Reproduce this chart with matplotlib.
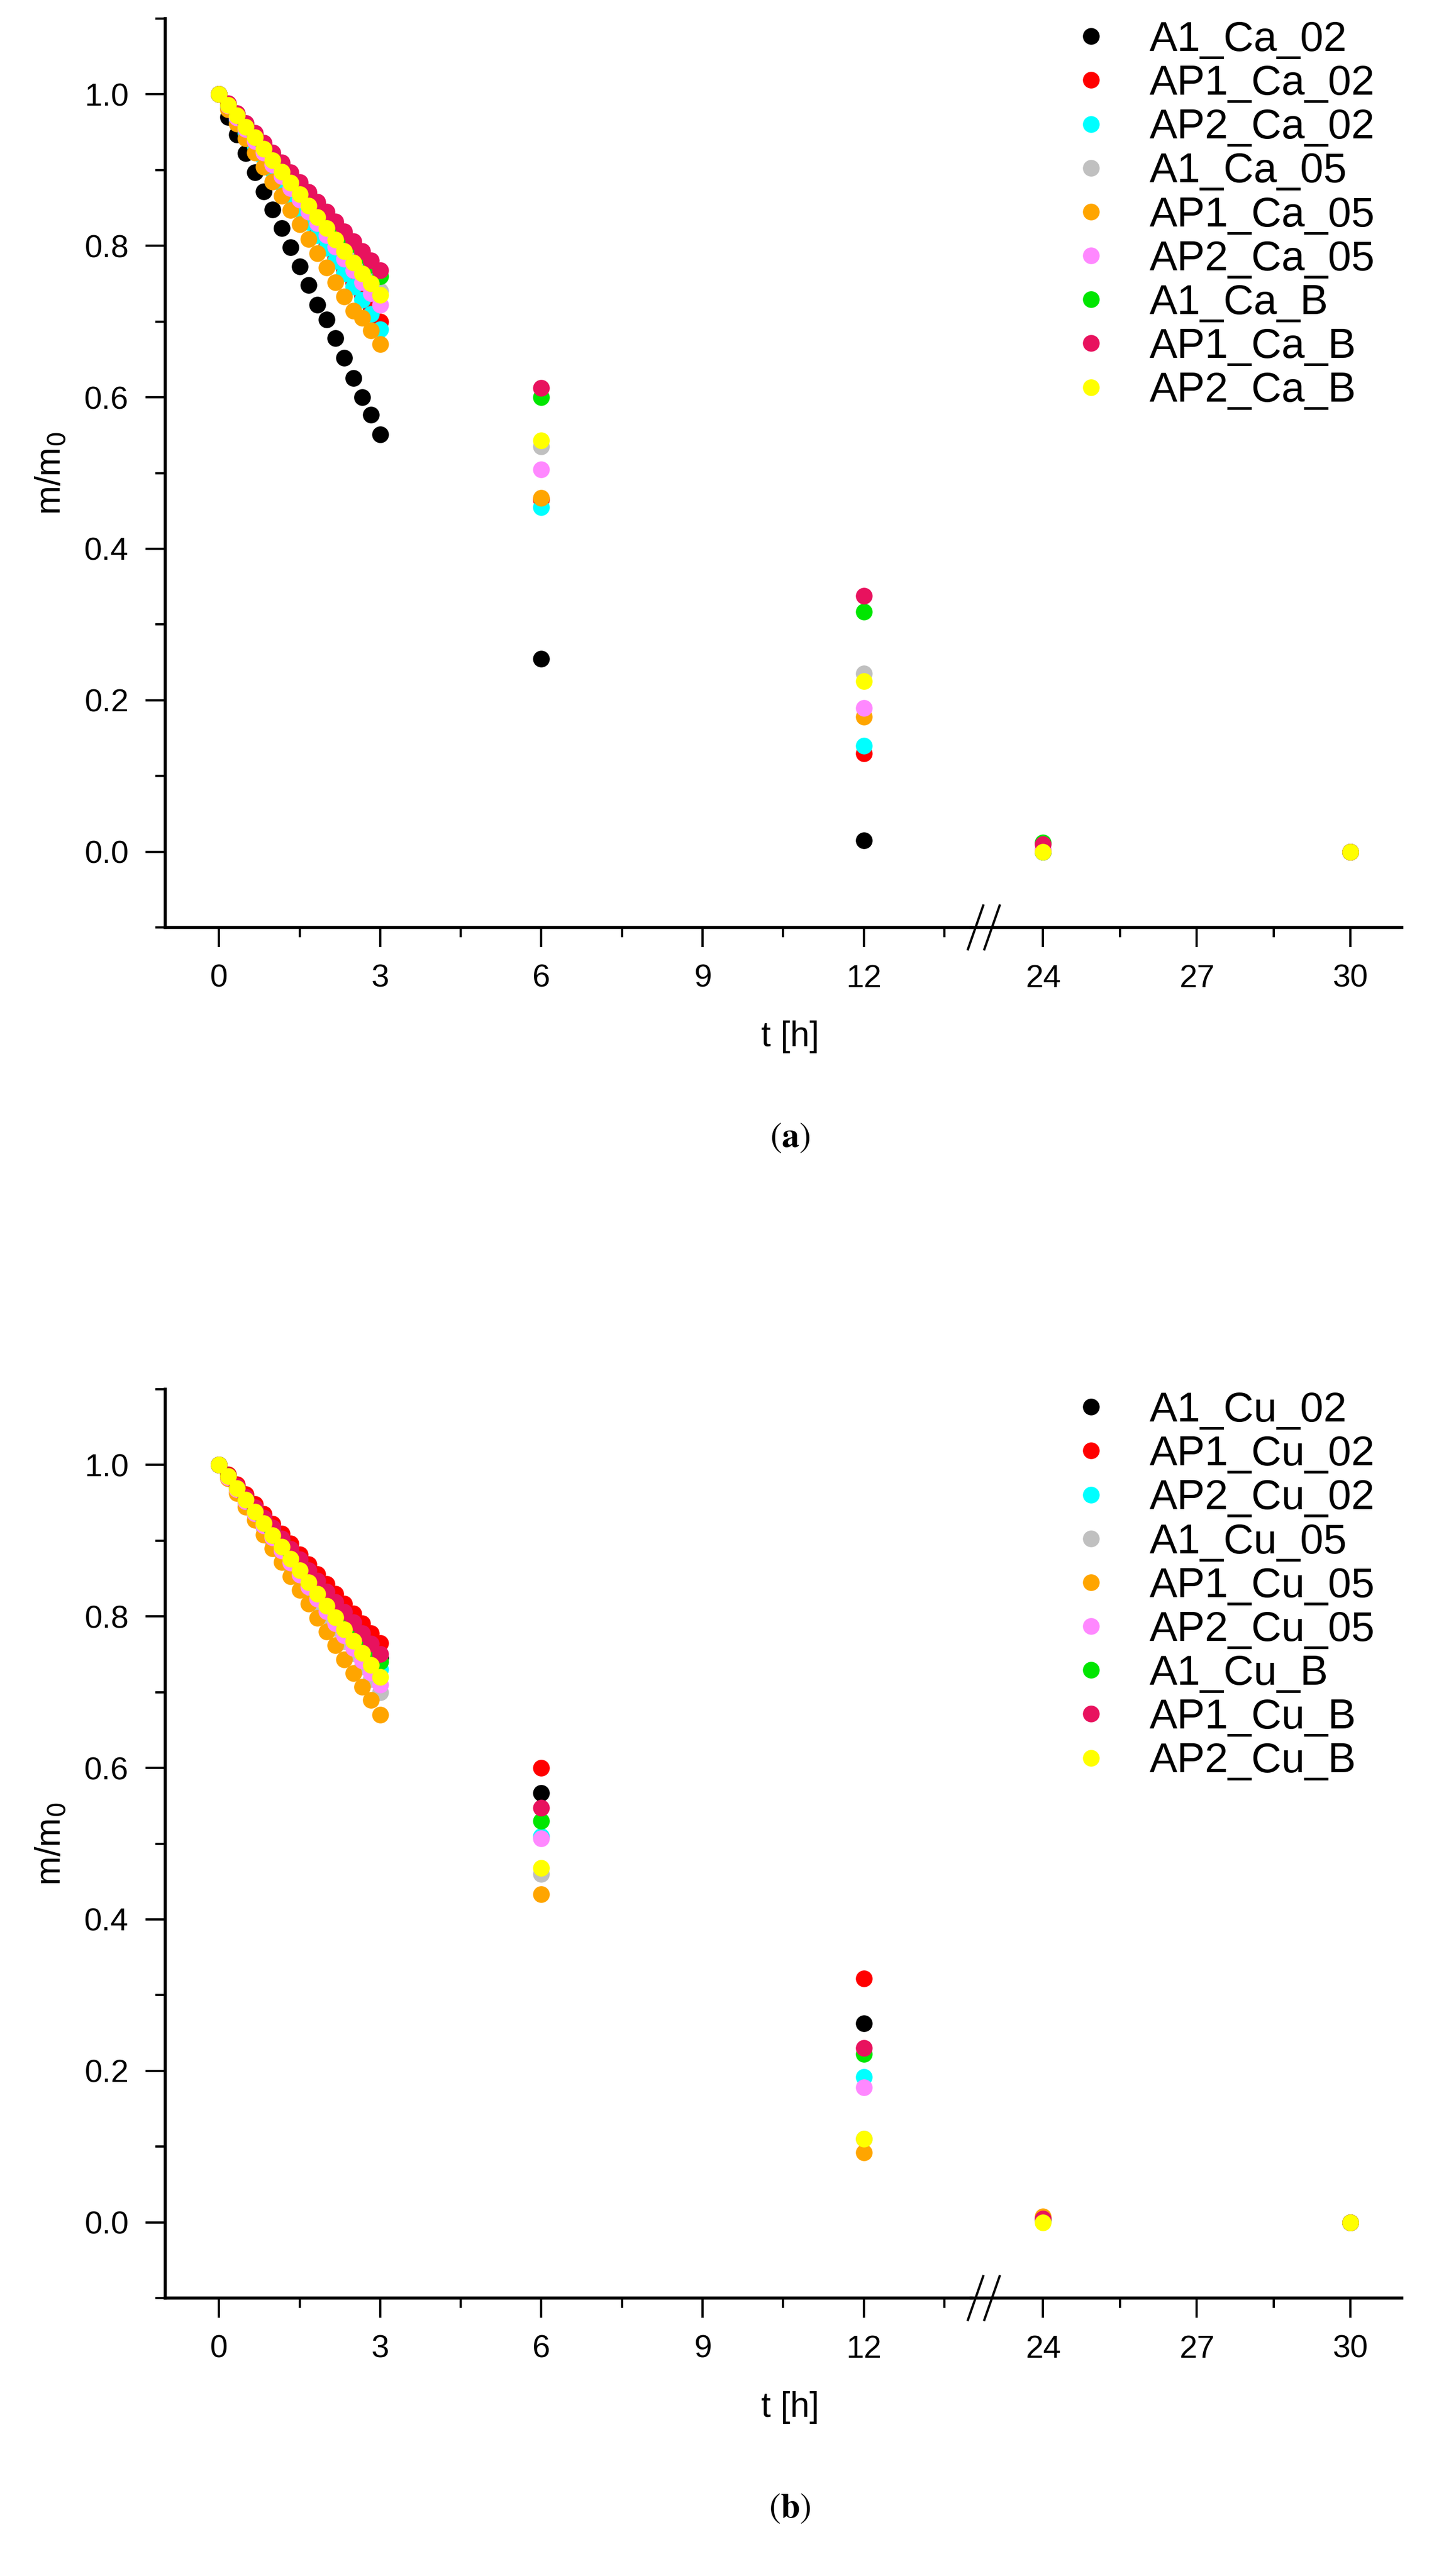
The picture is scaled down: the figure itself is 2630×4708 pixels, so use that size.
import numpy as np
import matplotlib.pyplot as plt
from matplotlib.lines import Line2D

plt.rcParams['font.family'] = ['Liberation Sans', 'DejaVu Sans']
plt.rcParams['mathtext.fontset'] = 'stix'

colors = ['black', 'red', 'cyan', '#c0c0c0', 'orange', '#ff88ff', '#00e600', '#e8125e', 'yellow']

t_early = [k / 6 for k in range(19)]
t_late = [6, 12, 24, 30]

names_a = ['A1_Ca_02', 'AP1_Ca_02', 'AP2_Ca_02', 'A1_Ca_05', 'AP1_Ca_05', 'AP2_Ca_05', 'A1_Ca_B', 'AP1_Ca_B', 'AP2_Ca_B']
names_b = ['A1_Cu_02', 'AP1_Cu_02', 'AP2_Cu_02', 'A1_Cu_05', 'AP1_Cu_05', 'AP2_Cu_05', 'A1_Cu_B', 'AP1_Cu_B', 'AP2_Cu_B']

early_a = [
    [1.000, 0.970, 0.947, 0.922, 0.897, 0.872, 0.848, 0.823, 0.798, 0.773, 0.748, 0.722, 0.703, 0.678, 0.652, 0.625, 0.600, 0.577, 0.551],
    [1.000, 0.984, 0.968, 0.951, 0.934, 0.918, 0.901, 0.884, 0.868, 0.851, 0.834, 0.818, 0.801, 0.784, 0.768, 0.751, 0.734, 0.717, 0.700],
    [1.000, 0.983, 0.966, 0.949, 0.932, 0.916, 0.899, 0.882, 0.865, 0.848, 0.831, 0.814, 0.797, 0.780, 0.763, 0.746, 0.729, 0.710, 0.690],
    [1.000, 0.986, 0.972, 0.957, 0.943, 0.928, 0.914, 0.899, 0.885, 0.870, 0.856, 0.841, 0.827, 0.812, 0.798, 0.783, 0.769, 0.754, 0.740],
    [1.000, 0.980, 0.961, 0.942, 0.923, 0.904, 0.885, 0.866, 0.847, 0.828, 0.809, 0.790, 0.771, 0.752, 0.733, 0.714, 0.705, 0.688, 0.670],
    [1.000, 0.985, 0.969, 0.954, 0.938, 0.923, 0.907, 0.892, 0.876, 0.861, 0.845, 0.830, 0.814, 0.799, 0.783, 0.768, 0.752, 0.737, 0.722],
    [1.000, 0.987, 0.974, 0.961, 0.947, 0.934, 0.921, 0.908, 0.894, 0.881, 0.868, 0.855, 0.841, 0.828, 0.815, 0.802, 0.788, 0.775, 0.760],
    [1.000, 0.988, 0.975, 0.962, 0.949, 0.936, 0.923, 0.910, 0.897, 0.884, 0.871, 0.858, 0.845, 0.832, 0.819, 0.806, 0.793, 0.781, 0.768],
    [1.000, 0.986, 0.972, 0.957, 0.943, 0.928, 0.913, 0.898, 0.883, 0.868, 0.853, 0.838, 0.823, 0.808, 0.793, 0.778, 0.763, 0.750, 0.735],
]
late_a = [
    [0.255, 0.015, 0.000, 0.000],
    [0.465, 0.130, 0.000, 0.000],
    [0.455, 0.140, 0.000, 0.000],
    [0.535, 0.235, 0.002, 0.000],
    [0.467, 0.178, 0.002, 0.000],
    [0.505, 0.190, 0.003, 0.000],
    [0.600, 0.317, 0.012, 0.000],
    [0.612, 0.338, 0.010, 0.000],
    [0.543, 0.225, 0.000, 0.000],
]

early_b = [
    [1.000, 0.986, 0.972, 0.958, 0.944, 0.930, 0.916, 0.902, 0.888, 0.874, 0.860, 0.845, 0.831, 0.817, 0.802, 0.788, 0.774, 0.760, 0.745],
    [1.000, 0.987, 0.974, 0.961, 0.948, 0.935, 0.922, 0.909, 0.896, 0.882, 0.869, 0.856, 0.843, 0.830, 0.817, 0.804, 0.791, 0.778, 0.765],
    [1.000, 0.985, 0.970, 0.955, 0.940, 0.925, 0.910, 0.895, 0.880, 0.865, 0.850, 0.835, 0.820, 0.805, 0.790, 0.775, 0.760, 0.745, 0.730],
    [1.000, 0.983, 0.967, 0.950, 0.934, 0.917, 0.900, 0.884, 0.867, 0.851, 0.834, 0.817, 0.801, 0.784, 0.767, 0.751, 0.734, 0.717, 0.700],
    [1.000, 0.982, 0.963, 0.945, 0.927, 0.908, 0.890, 0.872, 0.853, 0.835, 0.817, 0.798, 0.780, 0.762, 0.743, 0.725, 0.707, 0.690, 0.670],
    [1.000, 0.984, 0.968, 0.952, 0.936, 0.920, 0.904, 0.887, 0.871, 0.855, 0.839, 0.823, 0.807, 0.791, 0.775, 0.758, 0.742, 0.726, 0.710],
    [1.000, 0.986, 0.971, 0.957, 0.942, 0.928, 0.913, 0.899, 0.884, 0.870, 0.855, 0.841, 0.826, 0.812, 0.797, 0.783, 0.768, 0.754, 0.740],
    [1.000, 0.986, 0.972, 0.958, 0.944, 0.930, 0.917, 0.903, 0.889, 0.875, 0.861, 0.847, 0.833, 0.819, 0.806, 0.792, 0.778, 0.764, 0.750],
    [1.000, 0.985, 0.969, 0.954, 0.938, 0.923, 0.907, 0.892, 0.876, 0.861, 0.845, 0.830, 0.814, 0.799, 0.783, 0.768, 0.752, 0.736, 0.720],
]
late_b = [
    [0.567, 0.263, 0.003, 0.000],
    [0.600, 0.322, 0.004, 0.000],
    [0.510, 0.192, 0.002, 0.000],
    [0.460, 0.110, 0.003, 0.000],
    [0.433, 0.092, 0.008, 0.000],
    [0.507, 0.178, 0.003, 0.000],
    [0.530, 0.222, 0.004, 0.000],
    [0.547, 0.230, 0.005, 0.000],
    [0.468, 0.110, 0.000, 0.000],
]

W, H = 2630, 4708
fig = plt.figure(figsize=(W / 100, H / 100), dpi=100)

x_left, x_right, x_break = 302, 2562, 1775
lw = 4
tick_fs = 42
ms = 22


def panel(top_px, bot_px, names, early, late, caption):
    b = 1 - bot_px / H
    h = (bot_px - top_px) / H
    axl = fig.add_axes([x_left / W, b, (x_break - x_left) / W, h])
    axr = fig.add_axes([x_break / W, b, (x_right - x_break) / W, h])
    for i, name in enumerate(names):
        tt = t_early + t_late
        yy = early[i] + late[i]
        axl.plot(tt, yy, 'o', ms=ms, color=colors[i], mec='none', label=name, clip_on=False)
        axr.plot(t_late[2:], late[i][2:], 'o', ms=ms, color=colors[i], mec='none', clip_on=False)
    axl.set_xlim(-1, 14)
    axr.set_xlim(22.6, 31.0)
    for ax in (axl, axr):
        ax.set_ylim(-0.1, 1.1)
        ax.spines['top'].set_visible(False)
        ax.spines['right'].set_visible(False)
        ax.spines['bottom'].set_linewidth(lw)
        ax.spines['left'].set_linewidth(lw)
        ax.tick_params(which='major', length=26, width=3, labelsize=tick_fs, pad=22)
        ax.tick_params(which='minor', length=13, width=3)
    axl.set_xticks([0, 3, 6, 9, 12])
    axl.set_xticks([1.5, 4.5, 7.5, 10.5, 13.5], minor=True)
    axr.set_xticks([24, 27, 30])
    axr.set_xticks([25.5, 28.5], minor=True)
    axl.set_yticks([0.0, 0.2, 0.4, 0.6, 0.8, 1.0])
    axl.set_yticks([-0.1, 0.1, 0.3, 0.5, 0.7, 0.9, 1.1], minor=True)
    axl.set_yticklabels(['0.0', '0.2', '0.4', '0.6', '0.8', '1.0'])
    axr.spines['left'].set_visible(False)
    axr.set_yticks([])
    axr.patch.set_alpha(0)
    # break marks
    yb = bot_px
    for dx in (0, 30):
        x0 = x_break + dx + 8
        fig.add_artist(Line2D([(x0 - 14) / W, (x0 + 14) / W], [1 - (yb + 40) / H, 1 - (yb - 40) / H],
                              color='black', lw=3, transform=fig.transFigure))
    fig.legend(*axl.get_legend_handles_labels(), loc='upper left',
               bbox_to_anchor=(1956 / W, 1 - (top_px + 4) / H), frameon=False,
               fontsize=55, handlelength=1, handletextpad=0.9, labelspacing=0.12,
               borderpad=0, borderaxespad=0)
    fig.text(92 / W, 1 - (top_px + 0.5 * (bot_px - top_px)) / H, 'm/m$_0$',
             rotation=90, ha='center', va='center', fontsize=46,
             family='Liberation Sans', math_fontfamily='dejavusans')
    fig.text(1444 / W, 1 - (bot_px + 200) / H, 't [h]', ha='center', va='center', fontsize=46)
    fig.text(1444 / W, 1 - (bot_px + 385) / H, r'($\mathbf{' + caption + '}$)',
             ha='center', va='center', fontsize=46, family='STIXGeneral')


panel(34, 1695, names_a, early_a, late_a, 'a')
panel(2539, 4200, names_b, early_b, late_b, 'b')

fig.savefig('out.png', dpi=100)
